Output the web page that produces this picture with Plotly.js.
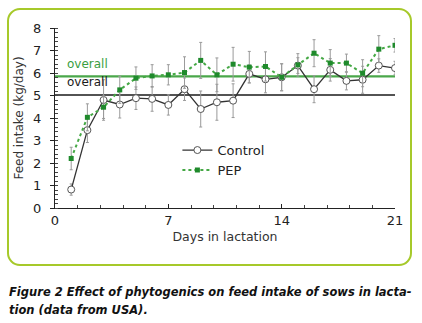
<!DOCTYPE html>
<html>
<head>
<meta charset="utf-8">
<script src="https://cdn.plot.ly/plotly-3.0.1.min.js"></script>
<style>
  html, body { margin: 0; padding: 0; background: #ffffff; }
  #wrap { position: relative; width: 422px; height: 323px; }
  #chart { position: absolute; left: 0; top: 0; width: 422px; height: 323px; }
  #frame { position: absolute; left: 7px; top: 8px; width: 405px; height: 258px;
           box-sizing: border-box; border: 2px solid #a6c92a; border-radius: 13px;
           pointer-events: none; }
</style>
</head>
<body>
<div id="wrap">
  <div id="chart"></div>
  <div id="frame"></div>
</div>
<script>
// ---- data ----
const days = [1,2,3,4,5,6,7,8,9,10,11,12,13,14,15,16,17,18,19,20,21];
const controlValues = [0.82,3.46,4.80,4.60,4.88,4.85,4.58,5.28,4.40,4.70,4.77,5.96,5.72,5.81,6.33,5.28,6.14,5.65,5.70,6.33,6.22];
const controlErrors = [0.25,0.55,0.90,0.60,0.50,0.55,0.45,0.50,0.80,0.80,0.75,0.40,0.60,0.60,0.35,0.60,0.50,0.40,0.60,0.30,0.30];
const pepValues = [2.20,4.03,4.48,5.25,5.77,5.87,5.92,6.02,6.56,5.92,6.39,6.26,6.29,5.81,6.36,6.88,6.44,6.44,5.99,7.06,7.23];
const pepErrors = [0.50,0.60,0.50,0.60,0.50,0.50,0.45,0.70,0.80,0.75,0.75,0.70,0.65,0.60,0.50,0.60,0.60,0.40,0.60,0.60,0.30];
const overallDays = [0, 21];
const overallControl = [5.02, 5.02];
const overallPep = [5.85, 5.85];
const seriesNames = ["Control", "PEP"];
const overallLabel = "overall";
const xTickValues = [0, 7, 14, 21];
const yTickValues = [0,1,2,3,4,5,6,7,8];
const xTitle = "Days in lactation";
const yTitle = "Feed intake (kg/day)";
const captionLine1 = "Figure 2 Effect of phytogenics on feed intake of sows in lacta-";
const captionLine2 = "tion (data from USA).";

const FONT = "DejaVu Sans, Verdana, sans-serif";
const DARKGREEN = "#1f8a2c";

const traces = [
  { x: overallDays, y: overallControl, mode: "lines", showlegend: false, hoverinfo: "skip",
    line: { color: "#1a1a1a", width: 1.6 } },
  { x: overallDays, y: overallPep, mode: "lines", showlegend: false, hoverinfo: "skip",
    line: { color: "#4aa74a", width: 2.2 } },
  { x: days, y: controlValues, name: seriesNames[0], mode: "lines+markers",
    error_y: { type: "data", array: controlErrors, visible: true, color: "#9a9a9a", thickness: 1, width: 1.5 },
    line: { color: "#333333", width: 1.3 },
    marker: { symbol: "circle", size: 7, color: "#ffffff", line: { color: "#555555", width: 1 } } },
  { x: days, y: pepValues, name: seriesNames[1], mode: "lines+markers",
    error_y: { type: "data", array: pepErrors, visible: true, color: "#9a9a9a", thickness: 1, width: 1.5 },
    line: { color: "#45a845", width: 2, dash: "dot" },
    marker: { symbol: "square", size: 5, color: DARKGREEN, line: { width: 0 } } }
];

const layout = {
  width: 422, height: 323,
  margin: { l: 55, r: 27, t: 28, b: 115 },
  paper_bgcolor: "#ffffff", plot_bgcolor: "#ffffff",
  font: { family: FONT, size: 12, color: "#222222" },
  showlegend: true,
  legend: { x: 0.36, y: 0.405, xanchor: "left", yanchor: "top", bgcolor: "rgba(0,0,0,0)",
            font: { family: FONT, size: 13, color: "#222222" }, tracegroupgap: 0, itemwidth: 30 },
  xaxis: {
    range: [0, 21], tickvals: xTickValues, ticktext: xTickValues.map(String),
    showgrid: false, zeroline: false, showline: true, linecolor: "#222", linewidth: 1.2,
    ticks: "inside", ticklen: 4, tickcolor: "#222",
    minor: { dtick: 1.4, tick0: 0, ticks: "inside", ticklen: 3, tickcolor: "#444", showgrid: false },
    tickfont: { family: FONT, size: 13, color: "#222" },
    title: { text: xTitle, font: { family: FONT, size: 12.5, color: "#333" }, standoff: 5 },
    automargin: false
  },
  yaxis: {
    range: [0, 8], tickvals: yTickValues, ticktext: yTickValues.map(String),
    showgrid: false, zeroline: false, showline: true, linecolor: "#222", linewidth: 1.2,
    ticks: "outside", ticklen: 4, tickcolor: "#222", ticklabelstandoff: 6,
    minor: { dtick: 0.2, tick0: 0, ticks: "inside", ticklen: 3, tickcolor: "#444", showgrid: false },
    tickfont: { family: FONT, size: 13, color: "#222" },
    title: { text: yTitle, font: { family: FONT, size: 12, color: "#333" }, standoff: 6 },
    automargin: false
  },
  annotations: [
    { x: 0.6, y: 6.4, xref: "x", yref: "y", text: overallLabel, showarrow: false, xanchor: "left", yanchor: "middle",
      font: { family: FONT, size: 12, color: "#3a9e3f" } },
    { x: 0.6, y: 5.62, xref: "x", yref: "y", text: overallLabel, showarrow: false, xanchor: "left", yanchor: "middle",
      font: { family: FONT, size: 12, color: "#1a1a1a" } },
    { x: (7 - 55) / 340, y: (208 - 292) / 180, xref: "paper", yref: "paper", text: captionLine1, showarrow: false,
      xanchor: "left", yanchor: "middle",
      font: { family: FONT, size: 11.5, color: "#111", weight: "bold", style: "italic" } },
    { x: (7 - 55) / 340, y: (208 - 310) / 180, xref: "paper", yref: "paper", text: captionLine2, showarrow: false,
      xanchor: "left", yanchor: "middle",
      font: { family: FONT, size: 11.5, color: "#111", weight: "bold", style: "italic" } }
  ]
};

Plotly.newPlot("chart", traces, layout, { displayModeBar: false, staticPlot: true });
</script>
</body>
</html>
